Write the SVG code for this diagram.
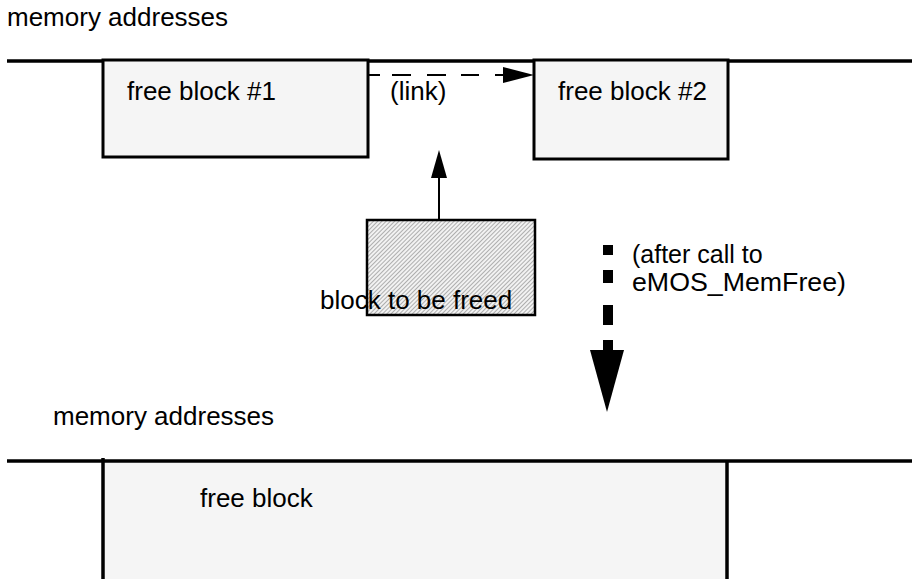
<svg xmlns="http://www.w3.org/2000/svg" width="912" height="579" viewBox="0 0 912 579">
<style>
text{font-family:"Liberation Sans",Arial,Helvetica,sans-serif;font-size:26px;fill:#000}
.note{font-size:25px}
.box{fill:#f5f5f5;stroke:#000;stroke-width:3}
.mem{stroke:#000;stroke-width:3.5;fill:none}
.edge{stroke:#000;stroke-width:2;fill:none}
.head{fill:#000;stroke:none}
</style>
<defs>
<pattern id="hatch" width="3" height="3" patternUnits="userSpaceOnUse" patternTransform="rotate(45)">
<rect width="3" height="3" fill="#f2f2f2"/>
<line x1="0" y1="0" x2="0" y2="3" stroke="#808080" stroke-width="1.2"/>
</pattern>
</defs>

<g id="top-memory">
<text x="7" y="26">memory addresses</text>
<line class="mem" x1="7" y1="61" x2="912" y2="61"/>
</g>

<g id="free-block-1">
<rect class="box" x="103" y="60" width="265" height="97"/>
<text x="127" y="100">free block #1</text>
</g>

<g id="free-block-2">
<rect class="box" x="534" y="60" width="194" height="99"/>
<text x="558" y="100">free block #2</text>
</g>

<g id="block-to-be-freed">
<rect x="367" y="220" width="168" height="95" fill="url(#hatch)" stroke="#000" stroke-width="2.5"/>
<text x="320" y="309">block to be freed</text>
</g>

<g id="connectors">
<path class="edge" d="M368 75H380M392 75H411M427 75H446M461 75H479M495 75H506"/>
<polygon class="head" points="503,67 534,75 503,83"/>
<text x="390" y="100">(link)</text>
<line class="edge" x1="439" y1="220" x2="439" y2="176"/>
<polygon class="head" points="431,178 439,150 447,178"/>
<rect class="head" x="603" y="245" width="10" height="10"/>
<rect class="head" x="603" y="270" width="10" height="13"/>
<rect class="head" x="603" y="305" width="10" height="20"/>
<rect class="head" x="603" y="340" width="10" height="12"/>
<polygon class="head" points="590,350 624,350 607,412"/>
<text class="note" x="632" y="263">(after call to</text>
<text class="note" x="632" y="291" textLength="214" lengthAdjust="spacingAndGlyphs">eMOS_MemFree)</text>
</g>

<g id="bottom-memory">
<text x="53" y="425">memory addresses</text>
<rect x="103" y="461" width="624" height="120" fill="#f5f5f5"/>
<line class="mem" x1="7" y1="461" x2="912" y2="461"/>
<line class="mem" x1="103" y1="458" x2="103" y2="579"/>
<line class="mem" x1="727" y1="461" x2="727" y2="579"/>
</g>

<g id="free-block">
<text x="200" y="507">free block</text>
</g>
</svg>
